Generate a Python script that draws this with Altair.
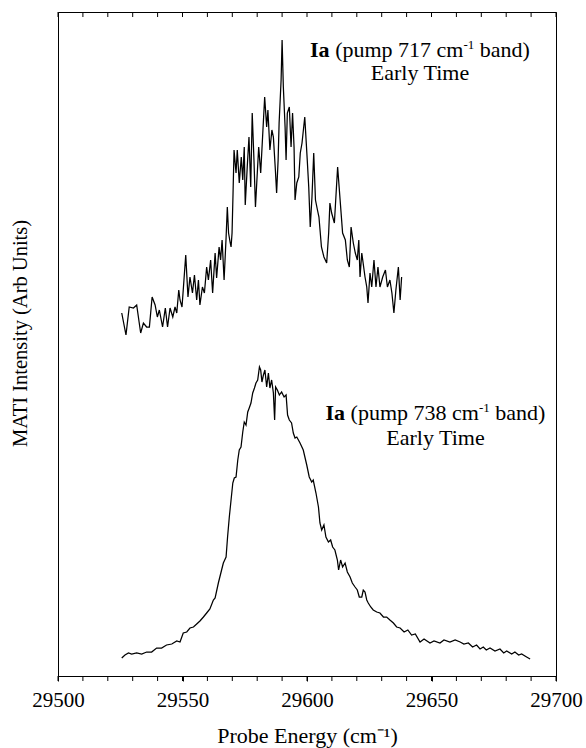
import altair as alt
import pandas as pd

FONT = "Liberation Serif"

# ---- trace 1 : Ia, pump 717 cm-1 band, early time ----
top_x = [29525.6, 29527.3, 29528.6, 29530.3, 29531.6, 29533.2, 29534.3, 29535.6, 29536.7, 29537.8,
         29539.0, 29539.9, 29540.7, 29542.0, 29543.1, 29544.0, 29545.0, 29546.1, 29547.0, 29547.7,
         29548.5, 29549.0, 29549.8, 29550.3, 29551.3, 29552.2, 29553.0, 29554.0, 29554.8, 29555.7,
         29556.4, 29557.0, 29558.0, 29558.8, 29559.7, 29560.4, 29561.3, 29562.1, 29563.1, 29563.7,
         29564.7, 29565.3, 29565.9, 29566.7, 29567.5, 29568.0, 29568.5, 29569.1, 29569.5, 29569.9,
         29570.3, 29570.7, 29571.5, 29572.0, 29572.8, 29573.6, 29574.2, 29574.8, 29575.2, 29576.0,
         29576.7, 29577.4, 29578.0, 29578.7, 29579.3, 29580.1, 29580.6, 29581.4, 29583.0, 29583.8,
         29584.3, 29585.1, 29585.9, 29586.5, 29587.3, 29587.8, 29588.4, 29588.8, 29589.6, 29590.0,
         29590.5, 29591.2, 29591.6, 29592.1, 29592.9, 29593.6, 29594.2, 29594.8, 29595.2, 29595.9,
         29596.7, 29597.3, 29598.0, 29599.1, 29600.1, 29600.7, 29601.3, 29602.0, 29602.7, 29603.4,
         29604.2, 29604.8, 29605.8, 29606.8, 29607.9, 29608.7, 29609.2, 29609.9, 29611.0, 29612.3,
         29613.3, 29614.3, 29615.4, 29616.2, 29617.0, 29617.7, 29618.6, 29619.4, 29620.2, 29620.8,
         29621.3, 29622.0, 29623.3, 29624.0, 29624.5, 29625.3, 29626.0, 29626.9, 29627.7, 29628.5,
         29629.3, 29630.4, 29631.5, 29632.3, 29633.3, 29634.1, 29634.9, 29635.7, 29636.7, 29637.4,
         29638.0]
top_y = [363, 341, 369, 368, 371, 343, 353, 349, 349, 379,
         371, 359, 366, 349, 368, 349, 368, 359, 369, 363,
         386, 376, 369, 386, 421, 379, 399, 383, 401, 376,
         396, 371, 389, 383, 409, 396, 416, 383, 423, 398,
         429, 416, 436, 396, 438, 469, 443, 434, 429, 443,
         483, 526, 503, 526, 493, 519, 496, 529, 471, 509,
         539, 489, 563, 516, 469, 506, 529, 503, 579, 549,
         566, 526, 546, 539, 506, 483, 516, 553, 596, 636,
         589, 549, 516, 563, 569, 529, 563, 529, 476, 493,
         499, 523, 533, 559, 516, 489, 449, 479, 523, 476,
         466, 459, 429, 419, 413, 443, 473, 463, 453, 509,
         476, 443, 436, 416, 409, 449, 433, 423, 416, 436,
         399, 423, 399, 389, 373, 403, 389, 416, 389, 409,
         389, 399, 406, 389, 396, 383, 363, 386, 409, 376,
         399]

# ---- trace 2 : Ia, pump 738 cm-1 band, early time ----
bot_x = [29525.6, 29526.9, 29528.3, 29529.6, 29531.6, 29533.6, 29535.6, 29537.6, 29539.6, 29541.6,
         29543.6, 29545.7, 29547.7, 29549.0, 29550.3, 29551.7, 29553.0, 29554.4, 29555.7, 29557.0,
         29558.4, 29559.7, 29561.0, 29562.4, 29563.1, 29564.4, 29565.7, 29566.4, 29567.5, 29568.1,
         29568.8, 29569.5, 29570.2, 29570.8, 29571.5, 29572.2, 29572.8, 29573.5, 29574.2, 29574.8,
         29575.5, 29576.2, 29576.8, 29577.5, 29578.2, 29578.9, 29579.5, 29580.2, 29580.9, 29581.4,
         29581.9, 29582.5, 29583.1, 29583.8, 29584.5, 29585.1, 29585.8, 29586.5, 29587.0, 29587.4,
         29588.1, 29588.9, 29589.8, 29590.8, 29591.6, 29592.2, 29592.9, 29593.8, 29594.5, 29595.2,
         29595.9, 29597.2, 29598.5, 29599.9, 29600.9, 29601.9, 29602.5, 29603.6, 29604.6, 29605.2,
         29605.9, 29606.8, 29607.6, 29608.6, 29609.5, 29610.3, 29611.2, 29612.2, 29612.7, 29613.5,
         29614.3, 29615.3, 29616.2, 29617.3, 29618.2, 29619.3, 29620.2, 29621.0, 29622.0, 29622.6,
         29623.3, 29624.0, 29624.6, 29625.6, 29626.6, 29628.0, 29629.3, 29630.7, 29632.0, 29633.3,
         29634.7, 29636.0, 29637.4,
         29639.0, 29640.5, 29642.0, 29643.5, 29645.4, 29647.0, 29649.4, 29651.0, 29653.4, 29655.0,
         29657.4, 29659.5, 29661.5, 29663.0, 29664.8, 29666.5, 29668.1, 29669.5, 29670.8, 29672.0,
         29673.5, 29675.5, 29677.5, 29679.0, 29680.2, 29682.2, 29683.5, 29685.0, 29686.2, 29688.2,
         29689.6]
bot_y = [18, 21, 23, 22, 23, 22, 24, 24, 28, 28,
         31, 32, 35, 34, 43, 44, 48, 49, 52, 55,
         59, 63, 67, 76, 78, 93, 106, 113, 119, 139,
         159, 176, 193, 198, 199, 216, 226, 229, 244, 254,
         251, 264, 268, 273, 283, 288, 293, 296, 309, 306,
         294, 301, 306, 289, 303, 288, 296, 283, 256, 289,
         286, 281, 284, 279, 281, 261, 256, 253, 243, 238,
         239, 233, 226, 211, 199, 194, 196, 183, 169, 153,
         146, 151, 139, 134, 136, 129, 126, 116, 106, 116,
         109, 113, 104, 99, 93, 89, 86, 79, 79, 86,
         84, 76, 73, 69, 66, 64, 63, 59, 59, 56,
         53, 49, 48,
         44, 46, 41, 42, 34, 37, 33, 35, 33, 36,
         34, 36, 34, 32, 33, 29, 31, 27, 29, 26,
         28, 25, 27, 23, 25, 22, 24, 21, 22, 19,
         17]

major_ticks = [29500, 29550, 29600, 29650, 29700]
minor_ticks = list(range(29500, 29701, 10))

# annotation anchors (centre of text block)
label_x = [29645.4, 29651.6]
label_y = [619, 256]
sub_y = [596, 231]
pumps = ["717", "738"]

df = pd.DataFrame({
    "energy": top_x + bot_x,
    "intensity": top_y + bot_y,
    "series": ["717"] * len(top_x) + ["738"] * len(bot_x),
    "order": list(range(len(top_x))) + list(range(len(bot_x))),
})

xscale = alt.Scale(domain=[29500, 29700], nice=False, zero=False)
yscale = alt.Scale(domain=[0, 664], nice=False, zero=False)

lines = alt.Chart(df).mark_line(color="black", strokeWidth=1.25).encode(
    x=alt.X("energy:Q", scale=xscale, axis=alt.Axis(
        values=major_ticks, format="d",
        labelOverlap=False, labelFlush=False,
        tickSize=5, tickColor="black", domainColor="black",
        labelFont=FONT, labelFontSize=21, labelColor="black", labelPadding=8,
        grid=False,
        title="Probe Energy (cm⁻¹)", titleFont=FONT, titleFontSize=22,
        titleFontWeight="normal", titleColor="black",
        titleY=66, titleBaseline="alphabetic")),
    y=alt.Y("intensity:Q", scale=yscale, axis=alt.Axis(
        labels=False, ticks=False, grid=False, domainColor="black",
        title="MATI Intensity (Arb Units)", titleFont=FONT, titleFontSize=20.5,
        titleFontWeight="normal", titleColor="black", titleAngle=270,
        titleX=-38, titleY=321, titleBaseline="middle", titleAlign="center")),
    detail="series:N",
    order="order:Q",
)

tick_df = pd.DataFrame({"energy": minor_ticks})
top_ticks = alt.Chart(tick_df).mark_rule(color="black", strokeWidth=1).encode(
    x=alt.X("energy:Q", scale=xscale), y=alt.value(0), y2=alt.value(5))
bottom_ticks = alt.Chart(tick_df).mark_rule(color="black", strokeWidth=1).encode(
    x=alt.X("energy:Q", scale=xscale), y=alt.value(664), y2=alt.value(669))

ann = pd.DataFrame({"energy": label_x, "intensity": label_y,
                    "mid": ["(pump " + p + " cm" for p in pumps]})
ann2 = pd.DataFrame({"energy": label_x, "intensity": sub_y})


def piece(data, text, dx, dy=0, size=22, weight="normal", align="left"):
    enc = dict(x=alt.X("energy:Q", scale=xscale),
               y=alt.Y("intensity:Q", scale=yscale))
    if text.startswith("field:"):
        enc["text"] = alt.Text(text[6:] + ":N")
    else:
        enc["text"] = alt.value(text)
    return alt.Chart(data).mark_text(
        align=align, baseline="alphabetic", dx=dx, dy=dy, font=FONT,
        fontSize=size, fontWeight=weight, color="black").encode(**enc)


texts = [
    piece(ann, "Ia", -110, weight="bold"),
    piece(ann, "field:mid", -84.9),
    piece(ann, "-1", 43.4, dy=-8, size=13),
    piece(ann, "band)", 59.7),
    piece(ann2, "Early Time", 0, align="center"),
]

chart = alt.layer(lines, top_ticks, bottom_ticks, *texts).properties(
    width=498, height=664,
    autosize=alt.AutoSizeParams(type="none"),
    padding={"left": 58, "top": 12, "right": 30, "bottom": 72},
    background="white",
).configure_view(stroke="black", strokeWidth=1)

chart.save("out.html", embed_options={"renderer": "svg", "actions": False})
